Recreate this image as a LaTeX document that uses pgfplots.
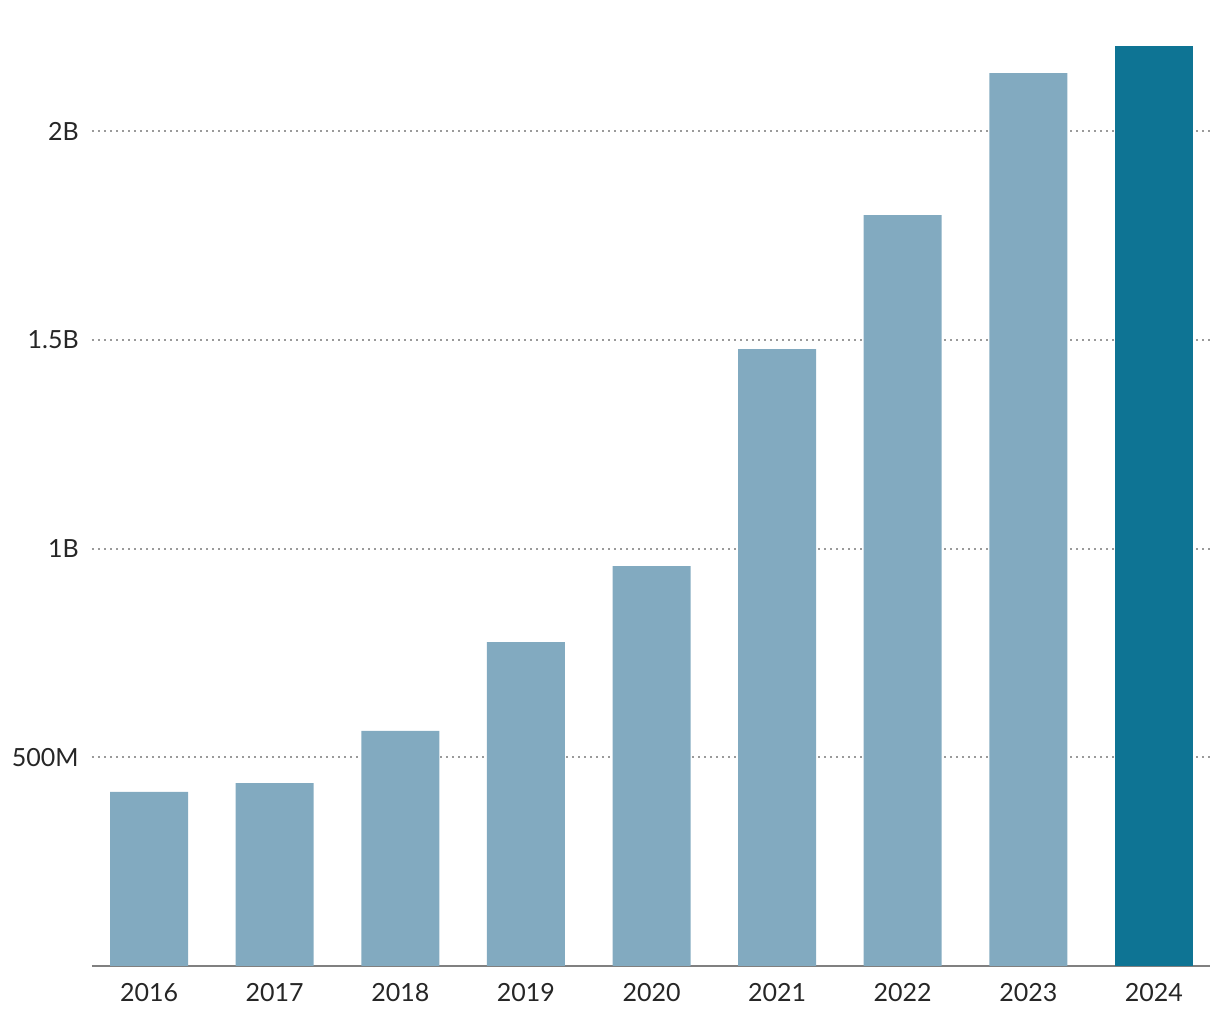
\documentclass[border=0pt]{standalone}
\usepackage{fontspec}
\setmainfont{Lato}
\usepackage{pgfplots}
\pgfplotsset{compat=1.18}
\definecolor{barlight}{HTML}{82AAC0}
\definecolor{bardark}{HTML}{0E7494}
\definecolor{gridgray}{HTML}{9A9A9A}
\begin{document}
\begin{tikzpicture}
  \useasboundingbox (0,0) rectangle (610pt,510pt);
  \begin{axis}[
      at={(46pt,27pt)}, anchor=south west,
      scale only axis,
      width=559pt, height=480pt,
      xmin=-0.454, xmax=8.446,
      ymin=0, ymax=2.3,
      axis x line=bottom, axis y line=left,
      x axis line style={draw=gray, line width=1pt, -},
      y axis line style={draw=none},
      tick style={draw=none},
      xtick={0,...,8},
      xticklabels={2016,2017,2018,2019,2020,2021,2022,2023,2024},
      ytick={0.5,1,1.5,2},
      yticklabels={500M,1B,1.5B,2B},
      ymajorgrids,
      major grid style={draw=gridgray, line width=1pt, dash pattern=on 1pt off 2pt},
      ticklabel style={font=\fontsize{12.5}{15}\selectfont, text=black!85},
      yticklabel style={xshift=-1pt},
      xticklabel style={yshift=-1pt},
      ybar, bar width=39pt, bar shift=0pt,
    ]
    \addplot[fill=barlight, draw=none] coordinates {
      (0,0.417) (1,0.438) (2,0.563) (3,0.776) (4,0.958)
      (5,1.478) (6,1.799) (7,2.139)
    };
    \addplot[fill=bardark, draw=none] coordinates {(8,2.204)};
  \end{axis}
\end{tikzpicture}
\end{document}
